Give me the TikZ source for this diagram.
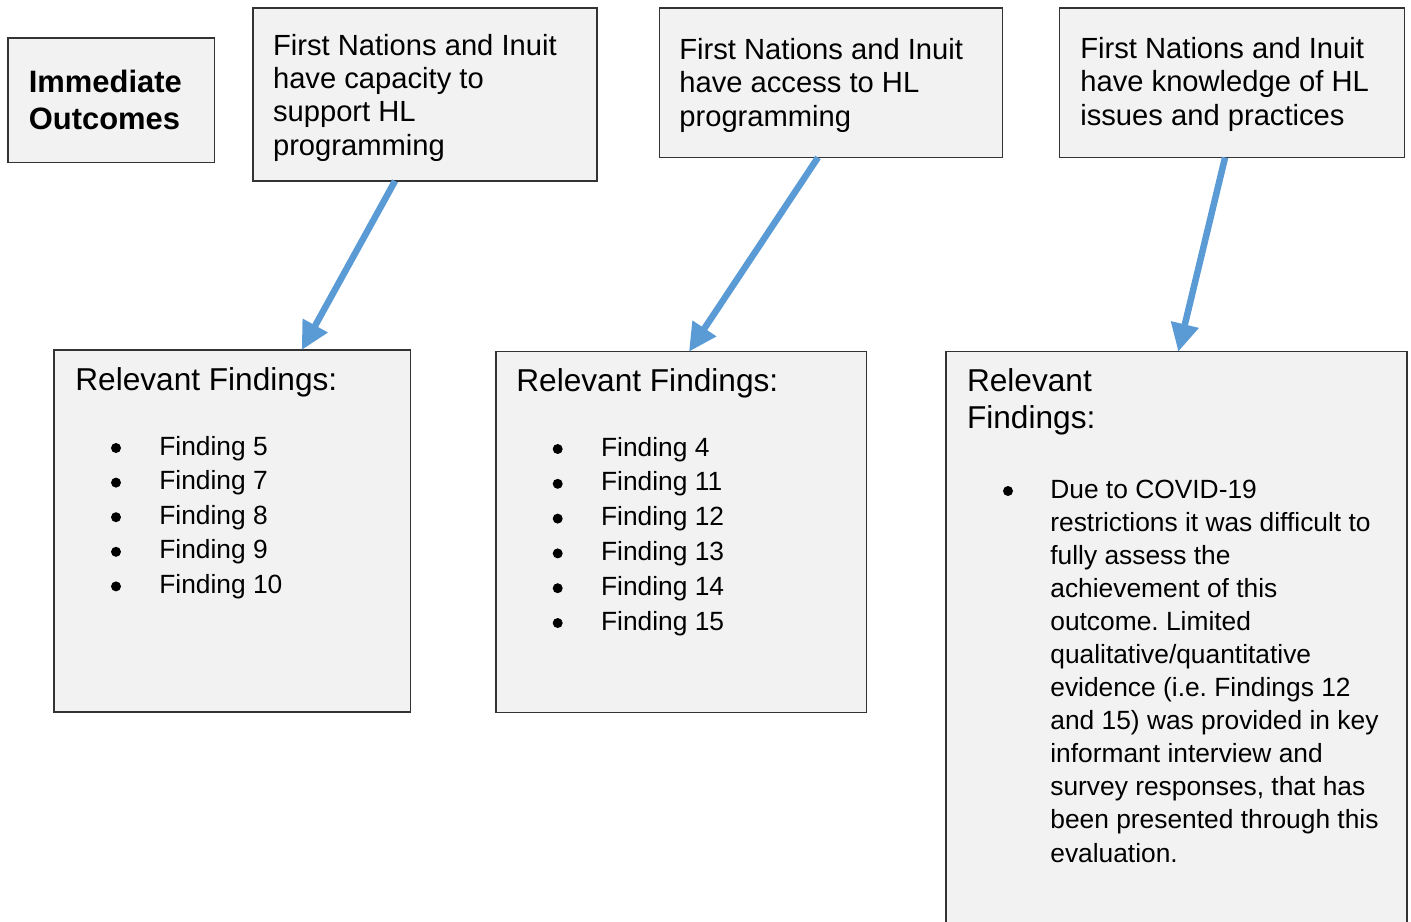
\documentclass[tikz,border=0pt]{standalone}
\usepackage{fontspec}
\setmainfont{Liberation Sans}
\usepackage{xcolor}
\usepackage{tikz}
\usetikzlibrary{arrows.meta,calc}
\frenchspacing

\definecolor{cardgray}{HTML}{F2F2F2}
\definecolor{arrowblue}{HTML}{5B9BD5}

\tikzset{
  card/.style={draw=black!80,line width=0.7pt,fill=cardgray,anchor=north west,inner sep=0pt,outer sep=0pt},
  outcome/.style={anchor=base west,align=left,inner sep=0pt,font=\fontsize{16.6}{18.95}\selectfont},
  heading/.style={anchor=base west,align=left,inner sep=0pt,font=\fontsize{18}{20.8}\selectfont},
  finding/.style={anchor=base west,align=left,inner sep=0pt,font=\fontsize{15}{18.8}\selectfont},
  dot/.style={circle,fill=black,inner sep=0pt,minimum size=0.2cm},
  link/.style={draw=arrowblue,line width=3.7pt,-{Triangle[length=0.56cm,width=0.54cm]}}
}

\begin{document}
\begin{tikzpicture}[x=0.02cm,y=-0.02cm]
  \useasboundingbox (0,0) rectangle (1411,921);
  % multi-line texts sit on the baseline of their last line
  \node[card,minimum width=4.13cm,minimum height=2.49cm] (io) at (8,38) {};
  \node[heading,font=\fontsize{17.6}{20.8}\selectfont\bfseries] (ioT) at (28.5,129.3) {Immediate\\Outcomes};

  \node[card,minimum width=6.88cm,minimum height=3.46cm] (cap) at (253,8) {};
  \node[card,minimum width=6.86cm,minimum height=2.99cm] (acc) at (659.7,8) {};
  \node[card,minimum width=6.9cm,minimum height=2.99cm] (knw) at (1059.5,8) {};
  \node[outcome] (capT) at (272.7,155) {First Nations and Inuit\\have capacity to\\support HL\\programming};
  \node[outcome] (accT) at (679,126.1) {First Nations and Inuit\\have access to HL\\programming};
  \node[outcome] (knwT) at (1080,125.1) {First Nations and Inuit\\have knowledge of HL\\issues and practices};

  \node[card,minimum width=7.13cm,minimum height=7.24cm] (fnd1) at (54,350) {};
  \node[card,minimum width=7.41cm,minimum height=7.21cm] (fnd2) at (496,351.7) {};
  \node[card,minimum width=9.22cm,minimum height=12.4cm] (fnd3) at (946,351.7) {};
  \node[heading] (fnd1H) at (75,390) {Relevant Findings:};
  \node[heading] (fnd2H) at (516,391.7) {Relevant Findings:};
  \node[heading] (fnd3H) at (966.7,428) {Relevant\\Findings:};

  \foreach \n [count=\i] in {5,7,8,9,10} {
    \node[dot] (fnd1d\i) at (116,{448+34.6*(\i-1)}) {};
    \node[finding] (fnd1i\i) at (159,{455+34.6*(\i-1)}) {Finding \n};
  }
  \foreach \n [count=\i] in {4,11,12,13,14,15} {
    \node[dot] (fnd2d\i) at (557.7,{449+34.8*(\i-1)}) {};
    \node[finding] (fnd2i\i) at (600.7,{456+34.8*(\i-1)}) {Finding \n};
  }
  \node[dot] (fnd3d) at (1008,491) {};
  \node[finding] (fnd3i) at (1050,862) {Due to COVID-19\\restrictions it was difficult to\\fully assess the\\achievement of this\\outcome. Limited\\qualitative/quantitative\\evidence (i.e. Findings 12\\and 15) was provided in key\\informant interview and\\survey responses, that has\\been presented through this\\evaluation.};

  \draw[link] ($(cap.south west)!0.413!(cap.south east)$) -- ($(fnd1.north west)!0.695!(fnd1.north east)$);
  \draw[link] ($(acc.south west)!0.4615!(acc.south east)$) -- ($(fnd2.north west)!0.521!(fnd2.north east)$);
  \draw[link] ($(knw.south west)!0.48!(knw.south east)$) -- ($(fnd3.north west)!0.504!(fnd3.north east)$);
\end{tikzpicture}
\end{document}
